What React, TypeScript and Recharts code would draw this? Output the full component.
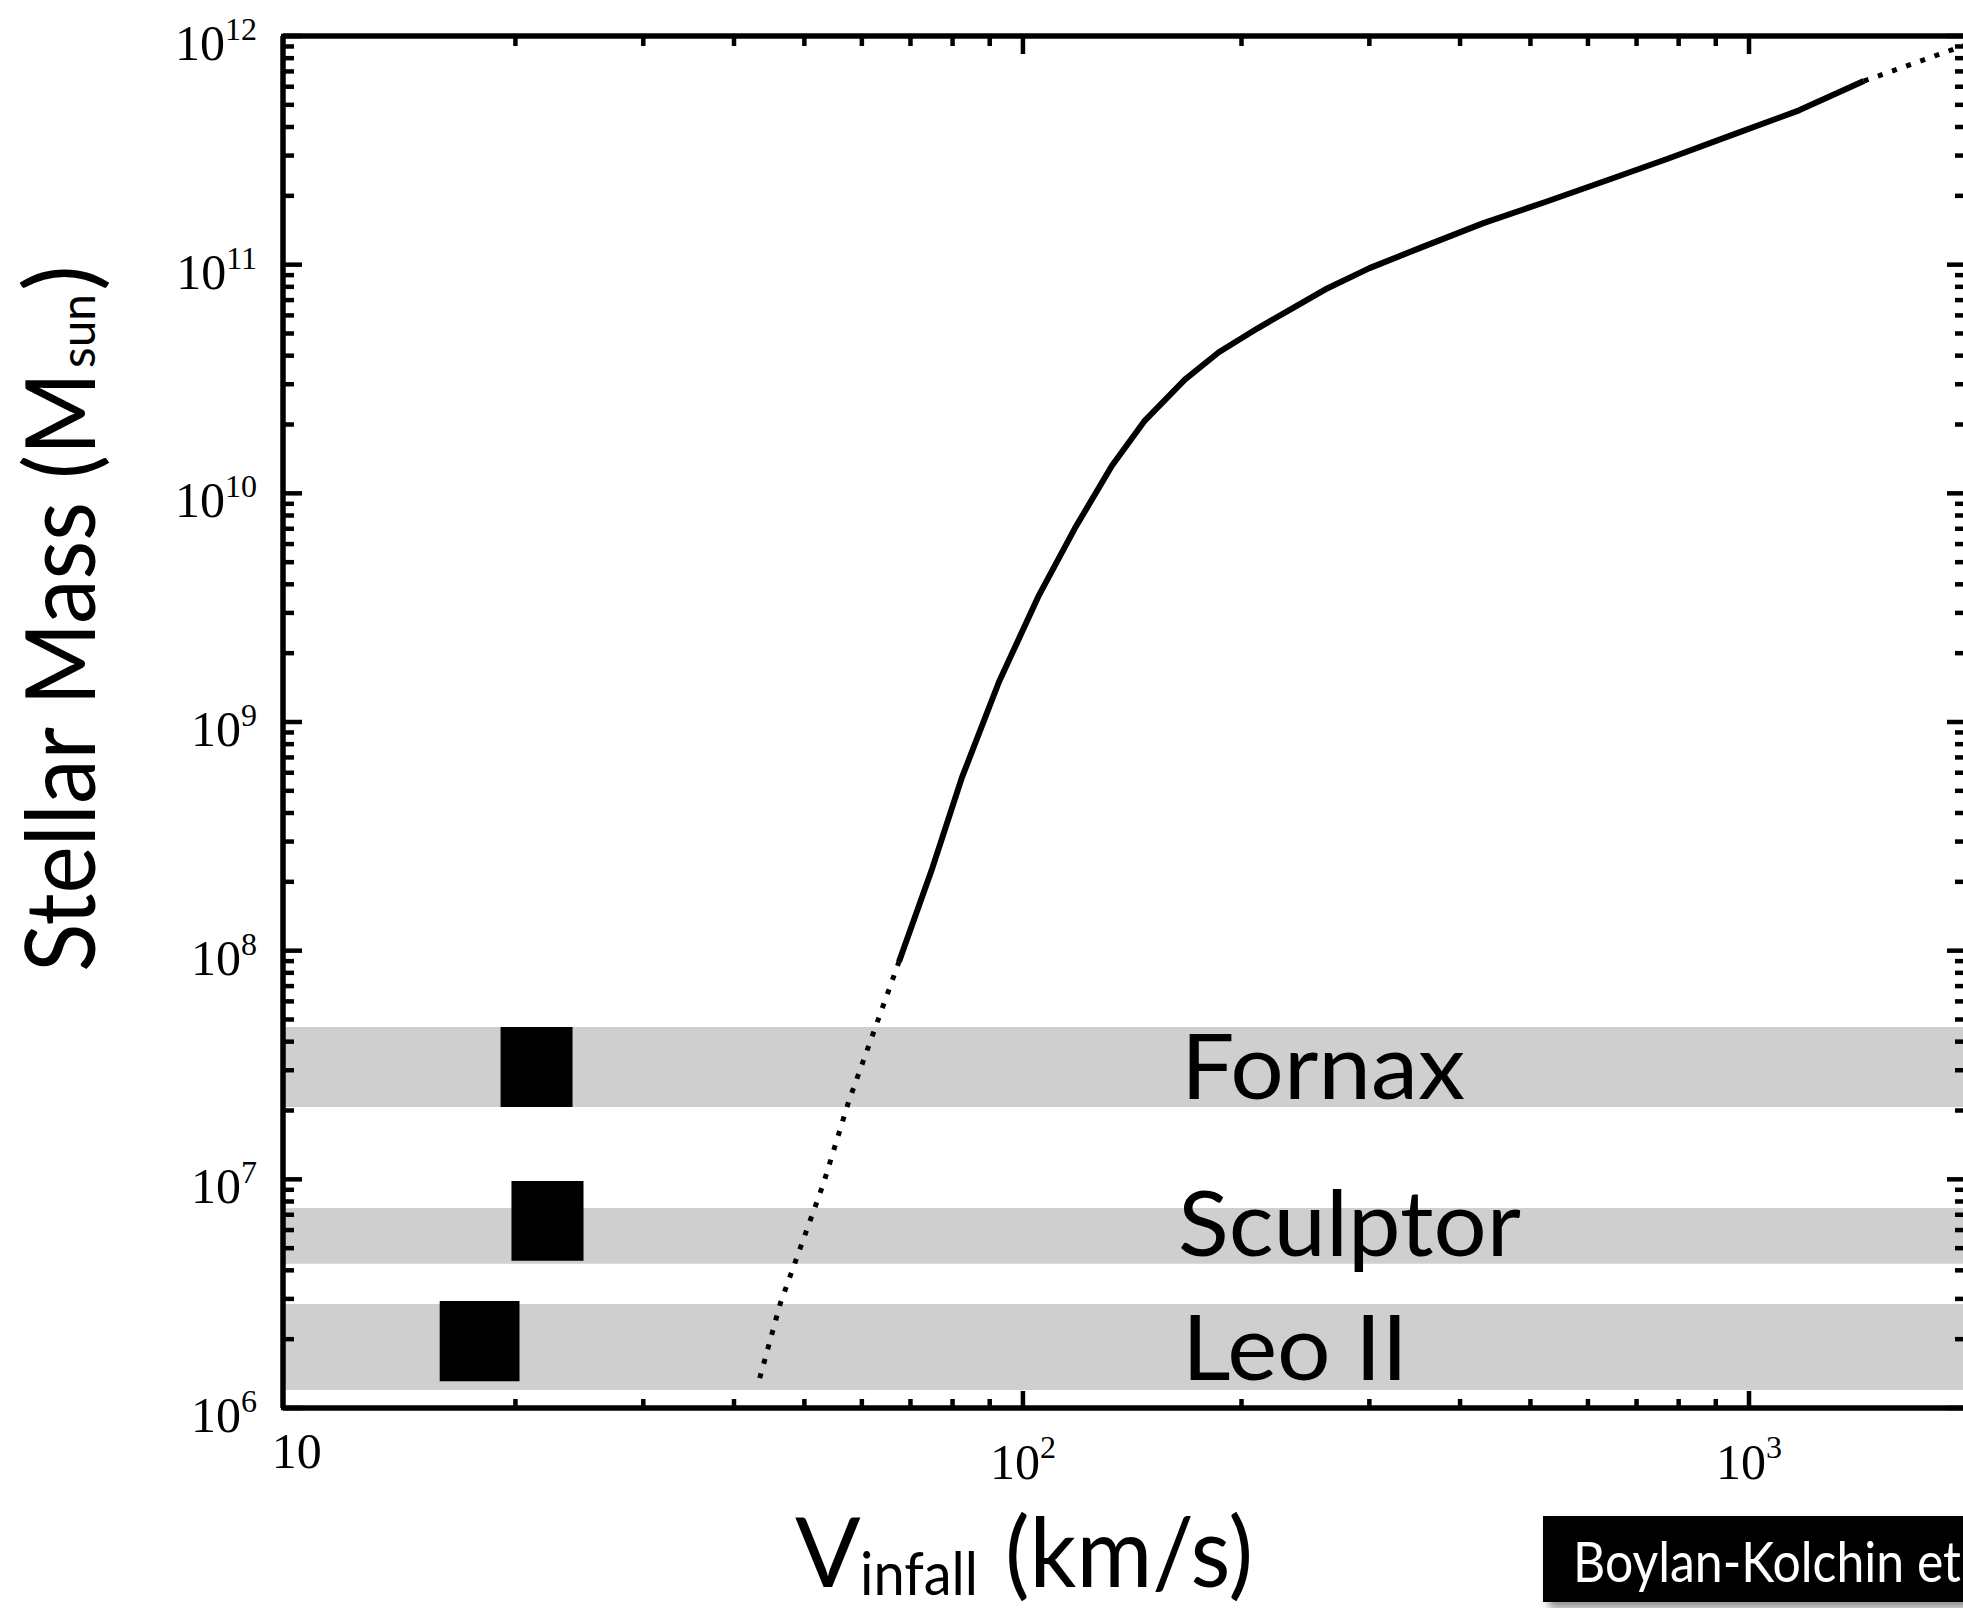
import React from 'react';
import { ComposedChart, XAxis, YAxis, Line, ReferenceArea } from 'recharts';

// ---------- data ----------
const xDomain: [number, number] = [9.57, 1990];
const yDomain: [number, number] = [1e6, 1e12];

const xTicks = [10, 20, 30, 40, 50, 60, 70, 80, 90, 100, 200, 300, 400, 500, 600, 700, 800, 900, 1000];
const yDecades = [1e6, 1e7, 1e8, 1e9, 1e10, 1e11];
const yMultipliers = [1, 2, 3, 4, 5, 6, 7, 8, 9];
const yTicks = [...yDecades.flatMap((d) => yMultipliers.map((k) => k * d)), 1e12];

// extrapolated (dotted) low-mass part of the abundance-matching relation
const lowerV = [43.4, 46.3, 53.1, 57.6, 62.6, 67.5];
const lowerM = [1.35e6, 2.85e6, 9.55e6, 2.21e7, 4.6e7, 8.95e7];

// solid part
const solidV = [67.5, 75.0, 82.4, 92.7, 105.2, 117.9, 132.6, 147.2, 167.1, 186.1, 210.5, 233.7, 262.8, 300.1, 353.9, 430.7, 524.2, 637.8, 776.2, 962.8, 1172, 1439];
const solidM = [8.95e7, 2.29e8, 5.71e8, 1.5e9, 3.58e9, 7.03e9, 1.32e10, 2.08e10, 3.14e10, 4.14e10, 5.27e10, 6.38e10, 7.89e10, 9.66e10, 1.19e11, 1.52e11, 1.88e11, 2.34e11, 2.92e11, 3.76e11, 4.73e11, 6.35e11];

// extrapolated (dotted) high-mass part
const upperV = [1439, 1951, 1990];
const upperM = [6.35e11, 8.95e11, 9.14e11];

// dwarf galaxies: stellar-mass bands and Vinfall boxes
const galaxyNames = ['Fornax', 'Sculptor', 'Leo II'];
const bandLow = [2.07e7, 4.27e6, 1.2e6];
const bandHigh = [4.64e7, 7.5e6, 2.85e6];
const boxVLow = [19.08, 19.75, 15.73];
const boxVHigh = [23.97, 24.82, 20.26];
const boxMLow = [2.07e7, 4.4e6, 1.31e6];
const boxMHigh = [4.64e7, 9.84e6, 2.94e6];

const lowerData = lowerV.map((v, i) => ({ v, m: lowerM[i] }));
const solidData = solidV.map((v, i) => ({ v, m: solidM[i] }));
const upperData = upperV.map((v, i) => ({ v, m: upperM[i] }));

// ---------- styles ----------
const SERIF = '"Liberation Serif", "DejaVu Serif", serif';
const SANS = 'Lato, "Open Sans", sans-serif';
const TICK_W = 4.5;

const isMajor = (v: number) => Math.abs(Math.log10(v) - Math.round(Math.log10(v))) < 1e-6;
const expOf = (v: number) => Math.round(Math.log10(v));

const BottomTick = (props: any) => {
  const { x, y, payload } = props;
  const v = payload.value;
  const major = isMajor(v);
  const e = expOf(v);
  return (
    <g>
      {v !== 10 && (
        <line x1={x} x2={x} y1={y} y2={y - (major ? 19 : 11)} stroke="#000" strokeWidth={TICK_W} />
      )}
      {major &&
        (e === 1 ? (
          <text x={x} y={y + 58} textAnchor="middle" fontFamily={SERIF} fontSize={50} fill="#000">
            10
          </text>
        ) : (
          <text x={x} y={y + 69} textAnchor="middle" fontFamily={SERIF} fontSize={50} fill="#000">
            10
            <tspan dy={-21} fontSize={32}>
              {e}
            </tspan>
          </text>
        ))}
    </g>
  );
};

const TopTick = (props: any) => {
  const { x, y, payload } = props;
  const v = payload.value;
  if (v === 10) return <g />;
  const major = isMajor(v);
  return <line x1={x} x2={x} y1={y} y2={y + (major ? 20 : 12)} stroke="#000" strokeWidth={TICK_W} />;
};

const LeftTick = (props: any) => {
  const { x, y, payload } = props;
  const v = payload.value;
  const major = isMajor(v);
  const e = expOf(v);
  return (
    <g>
      <line x1={x} x2={x + (major ? 21 : 13)} y1={y} y2={y} stroke="#000" strokeWidth={TICK_W} />
      {major && (
        <text x={x - 24} y={y + 24} textAnchor="end" fontFamily={SERIF} fontSize={50} fill="#000">
          10
          <tspan dy={-20} fontSize={32}>
            {e}
          </tspan>
        </text>
      )}
    </g>
  );
};

const RightTick = (props: any) => {
  const { x, y, payload } = props;
  const major = isMajor(payload.value);
  return <line x1={x} x2={x - (major ? 21 : 13)} y1={y} y2={y} stroke="#000" strokeWidth={TICK_W} />;
};

const axisLine = { stroke: '#000', strokeWidth: 5.5 };

// label positions (page pixels)
const labelX = [1181, 1178, 1182];
const labelBaseline = [1099, 1256, 1380];
const labelWidth = [284, 343, 226];

export default function App() {
  const chartW = 2010;
  const chartH = 1608;
  return (
    <div
      style={{
        position: 'absolute',
        left: 0,
        top: 0,
        width: 1963,
        height: 1608,
        overflow: 'hidden',
        background: '#fff',
      }}
    >
      <ComposedChart
        width={chartW}
        height={chartH}
        margin={{ top: 35, right: chartW - 1966 - 1, bottom: 199, left: 282 }}
      >
        <XAxis
          xAxisId={0}
          dataKey="v"
          type="number"
          scale="log"
          domain={xDomain}
          allowDataOverflow
          ticks={xTicks}
          interval={0}
          height={1}
          tickSize={0}
          tickLine={false}
          axisLine={axisLine}
          tick={<BottomTick />}
        />
        <XAxis
          xAxisId="top"
          orientation="top"
          dataKey="v"
          type="number"
          scale="log"
          domain={xDomain}
          allowDataOverflow
          ticks={xTicks}
          interval={0}
          height={1}
          tickSize={0}
          tickLine={false}
          axisLine={axisLine}
          tick={<TopTick />}
        />
        <YAxis
          yAxisId={0}
          type="number"
          scale="log"
          domain={yDomain}
          allowDataOverflow
          ticks={yTicks}
          interval={0}
          width={1}
          tickSize={0}
          tickLine={false}
          axisLine={axisLine}
          tick={<LeftTick />}
        />
        <YAxis
          yAxisId="right"
          orientation="right"
          type="number"
          scale="log"
          domain={yDomain}
          allowDataOverflow
          ticks={yTicks}
          interval={0}
          width={1}
          tickSize={0}
          tickLine={false}
          axisLine={axisLine}
          tick={<RightTick />}
        />

        {galaxyNames.map((name, i) => (
          <ReferenceArea
            key={'band-' + name}
            y1={bandLow[i]}
            y2={bandHigh[i]}
            fill="#cfcfcf"
            fillOpacity={1}
            stroke="none"
          />
        ))}
        {galaxyNames.map((name, i) => (
          <ReferenceArea
            key={'box-' + name}
            x1={boxVLow[i]}
            x2={boxVHigh[i]}
            y1={boxMLow[i]}
            y2={boxMHigh[i]}
            fill="#000"
            fillOpacity={1}
            stroke="none"
          />
        ))}

        <Line
          data={lowerData}
          dataKey="m"
          type="linear"
          stroke="#000"
          strokeWidth={5}
          strokeDasharray="5 10"
          dot={false}
          activeDot={false}
          isAnimationActive={false}
        />
        <Line
          data={solidData}
          dataKey="m"
          type="linear"
          stroke="#000"
          strokeWidth={6}
          strokeLinejoin="round"
          dot={false}
          activeDot={false}
          isAnimationActive={false}
        />
        <Line
          data={upperData}
          dataKey="m"
          type="linear"
          stroke="#000"
          strokeWidth={5}
          strokeDasharray="5 10"
          dot={false}
          activeDot={false}
          isAnimationActive={false}
        />
      </ComposedChart>

      <svg
        width={1963}
        height={1608}
        style={{ position: 'absolute', left: 0, top: 0, pointerEvents: 'none' }}
      >
        <defs>
          <filter id="shadow" x="-10%" y="-30%" width="130%" height="170%">
            <feDropShadow dx="6" dy="6" stdDeviation="4" floodColor="#000" floodOpacity="0.45" />
          </filter>
        </defs>

        {galaxyNames.map((name, i) => (
          <text
            key={'lbl-' + name}
            x={labelX[i]}
            y={labelBaseline[i]}
            fontFamily={SANS}
            fontSize={92}
            fill="#000"
            textLength={labelWidth[i]}
            lengthAdjust="spacingAndGlyphs"
          >
            {name}
          </text>
        ))}

        {/* x axis title */}
        <text x={795} y={1587} fontFamily={SANS} fontSize={97} fill="#000">
          V
        </text>
        <text x={860} y={1595} fontFamily={SANS} fontSize={60} fill="#000" textLength={118} lengthAdjust="spacingAndGlyphs">
          infall
        </text>
        <text x={1005} y={1587} fontFamily={SANS} fontSize={97} fill="#000" textLength={248} lengthAdjust="spacingAndGlyphs">
          (km/s)
        </text>

        {/* y axis title */}
        <g transform="translate(95, 972) rotate(-90)">
          <text x={0} y={0} fontFamily={SANS} fontSize={97} fill="#000" textLength={600} lengthAdjust="spacingAndGlyphs">
            Stellar Mass (M
          </text>
          <text x={604} y={0} fontFamily={SANS} fontSize={48} fill="#000" textLength={74} lengthAdjust="spacingAndGlyphs">
            sun
          </text>
          <text x={681} y={0} fontFamily={SANS} fontSize={97} fill="#000">
            )
          </text>
        </g>

        {/* citation box (cut off at the right edge, as in the reference) */}
        <rect x={1543} y={1516} width={480} height={86} fill="#000" filter="url(#shadow)" />
        <text x={1573} y={1582} fontFamily={SANS} fontSize={57} fill="#fff" textLength={388} lengthAdjust="spacingAndGlyphs">
          Boylan-Kolchin et
        </text>
      </svg>
    </div>
  );
}
